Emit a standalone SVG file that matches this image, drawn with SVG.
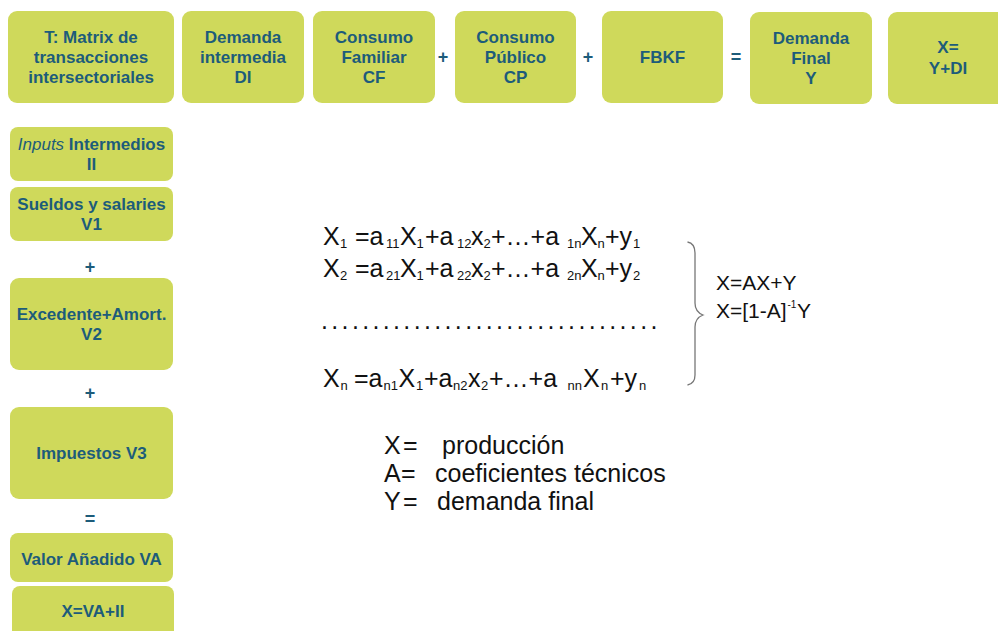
<svg xmlns="http://www.w3.org/2000/svg" width="998" height="631" viewBox="0 0 998 631">
<style>
.box{fill:#cfd95b;}
.lb{font-family:"Liberation Sans",Arial,sans-serif;font-weight:bold;font-size:17px;fill:#1d5c7a;text-anchor:middle;}
.op{font-family:"Liberation Sans",Arial,sans-serif;font-weight:bold;font-size:18px;fill:#1d5c7a;text-anchor:middle;}
.eq{font-family:"Liberation Sans",Arial,sans-serif;font-size:25px;fill:#111;}
.sb{font-size:13px;}
.f2{font-family:"Liberation Sans",Arial,sans-serif;font-size:21px;fill:#111;}
.lg{font-family:"Liberation Sans",Arial,sans-serif;font-size:25px;fill:#111;}
</style>
<rect width="998" height="631" fill="#ffffff"/>

<g id="n-matrix"><rect class="box" x="8" y="11" width="166" height="92" rx="9"/>
<text class="lb" x="91" y="43">T: Matrix de</text><text class="lb" x="91" y="63">transacciones</text><text class="lb" x="91" y="83">intersectoriales</text></g>
<g id="n-di"><rect class="box" x="182" y="11" width="122" height="92" rx="9"/>
<text class="lb" x="243" y="43">Demanda</text><text class="lb" x="243" y="63">intermedia</text><text class="lb" x="243" y="83">DI</text></g>
<g id="n-cf"><rect class="box" x="313" y="11" width="122" height="92" rx="9"/>
<text class="lb" x="374" y="43">Consumo</text><text class="lb" x="374" y="63">Familiar</text><text class="lb" x="374" y="83">CF</text></g>
<g id="n-cp"><rect class="box" x="455" y="11" width="121" height="92" rx="9"/>
<text class="lb" x="515.5" y="43">Consumo</text><text class="lb" x="515.5" y="63">Público</text><text class="lb" x="515.5" y="83">CP</text></g>
<g id="n-fbkf"><rect class="box" x="602" y="11" width="121" height="92" rx="9"/>
<text class="lb" x="662.5" y="63">FBKF</text></g>
<g id="n-y"><rect class="box" x="750" y="12" width="122" height="92" rx="9"/>
<text class="lb" x="811" y="44">Demanda</text><text class="lb" x="811" y="64">Final</text><text class="lb" x="811" y="84">Y</text></g>
<g id="n-x"><rect class="box" x="888" y="12" width="122" height="92" rx="9"/>
<text class="lb" x="948" y="53">X=</text><text class="lb" x="948" y="74">Y+DI</text></g>

<g id="n-ii"><rect class="box" x="10" y="127" width="163" height="54" rx="8"/>
<text class="lb" x="91.5" y="150"><tspan font-style="italic" font-weight="normal">Inputs</tspan> Intermedios</text><text class="lb" x="91.5" y="170">II</text></g>
<g id="n-v1"><rect class="box" x="10" y="187" width="163" height="54" rx="8"/>
<text class="lb" x="91.5" y="210">Sueldos y salaries</text><text class="lb" x="91.5" y="230">V1</text></g>
<g id="n-v2"><rect class="box" x="10" y="278" width="163" height="92" rx="9"/>
<text class="lb" x="91.5" y="320">Excedente+Amort.</text><text class="lb" x="91.5" y="340">V2</text></g>
<g id="n-v3"><rect class="box" x="10" y="407" width="163" height="92" rx="9"/>
<text class="lb" x="91.5" y="459">Impuestos V3</text></g>
<g id="n-va"><rect class="box" x="10" y="533" width="163" height="49" rx="8"/>
<text class="lb" x="91.5" y="565">Valor Añadido VA</text></g>
<g id="n-xva"><rect class="box" x="12" y="586" width="162" height="60" rx="8"/>
<text class="lb" x="93" y="617">X=VA+II</text></g>

<g id="operators">
<text class="op" x="443" y="63">+</text>
<text class="op" x="588" y="63">+</text>
<text class="op" x="736" y="63">=</text>
<text class="op" x="90" y="273">+</text>
<text class="op" x="90" y="399">+</text>
<text class="op" x="90" y="525">=</text>
</g>

<g id="connectors"></g>

<g id="equations">
<text class="eq" y="245"><tspan x="323">X</tspan><tspan class="sb" x="340" dy="3">1</tspan><tspan x="355" dy="-3">=a</tspan><tspan class="sb" x="386" dy="3">11</tspan><tspan x="400" dy="-3">X</tspan><tspan class="sb" x="416.5" dy="3">1</tspan><tspan x="425" dy="-3">+a</tspan><tspan class="sb" x="457" dy="3">12</tspan><tspan x="471" dy="-3">x</tspan><tspan class="sb" x="483.5" dy="3">2</tspan><tspan x="491" dy="-3">+…+a</tspan><tspan class="sb" x="567" dy="3">1n</tspan><tspan x="581" dy="-3">X</tspan><tspan class="sb" x="597.5" dy="3">n</tspan><tspan x="605" dy="-3">+y</tspan><tspan class="sb" x="633" dy="3">1</tspan></text>
<text class="eq" y="277"><tspan x="323">X</tspan><tspan class="sb" x="340" dy="3">2</tspan><tspan x="355" dy="-3">=a</tspan><tspan class="sb" x="386" dy="3">21</tspan><tspan x="400" dy="-3">X</tspan><tspan class="sb" x="416.5" dy="3">1</tspan><tspan x="425" dy="-3">+a</tspan><tspan class="sb" x="457" dy="3">22</tspan><tspan x="471" dy="-3">x</tspan><tspan class="sb" x="483.5" dy="3">2</tspan><tspan x="491" dy="-3">+…+a</tspan><tspan class="sb" x="567" dy="3">2n</tspan><tspan x="581" dy="-3">X</tspan><tspan class="sb" x="597.5" dy="3">n</tspan><tspan x="605" dy="-3">+y</tspan><tspan class="sb" x="633" dy="3">2</tspan></text>
<text class="eq" x="321" y="329" letter-spacing="3.35">.................................</text>
<text class="eq" y="387"><tspan x="323">X</tspan><tspan class="sb" x="340.5" dy="3">n</tspan><tspan x="354" dy="-3">=a</tspan><tspan class="sb" x="383.5" dy="3">n1</tspan><tspan x="398.5" dy="-3">X</tspan><tspan class="sb" x="416" dy="3">1</tspan><tspan x="424" dy="-3">+a</tspan><tspan class="sb" x="453" dy="3">n2</tspan><tspan x="468" dy="-3">x</tspan><tspan class="sb" x="481" dy="3">2</tspan><tspan x="489" dy="-3">+…+a</tspan><tspan class="sb" x="567.5" dy="3">nn</tspan><tspan x="583" dy="-3">X</tspan><tspan class="sb" x="601" dy="3">n</tspan><tspan x="610" dy="-3">+y</tspan><tspan class="sb" x="639" dy="3">n</tspan></text>
<path d="M687.5,242 C693,243 695,247 695,253 L695,303 C695,309 698,313 703,315 C698,317 695,321 695,327 L695,375 C695,381 693,384 687.5,385" fill="none" stroke="#777" stroke-width="1.3"/>
<text class="f2" x="716" y="290">X=AX+Y</text>
<text class="f2" y="318"><tspan x="716">X=[1-A]</tspan><tspan font-size="10" x="787.5" dy="-10">-1</tspan><tspan x="797" dy="10">Y</tspan></text>
</g>

<g id="legend">
<text class="lg" y="454"><tspan x="384">X</tspan><tspan x="403">=</tspan><tspan x="442">producción</tspan></text>
<text class="lg" y="482"><tspan x="384">A</tspan><tspan x="401">=</tspan><tspan x="435">coeficientes técnicos</tspan></text>
<text class="lg" y="510"><tspan x="384">Y</tspan><tspan x="403">=</tspan><tspan x="437">demanda final</tspan></text>
</g>
</svg>
